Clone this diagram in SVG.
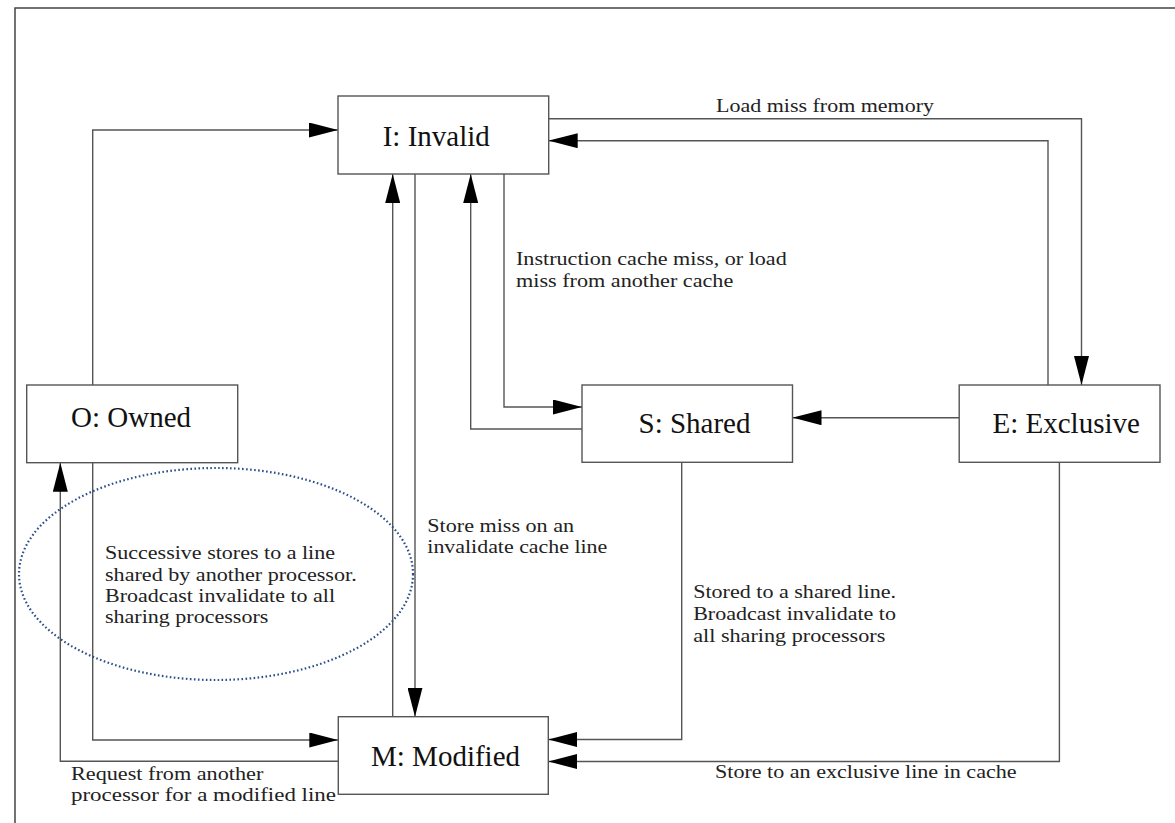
<svg xmlns="http://www.w3.org/2000/svg" width="1175" height="823" viewBox="0 0 1175 823">
<defs>
<style>
.box{fill:#fff;stroke:#555;stroke-width:1.4}
.ln{fill:none;stroke:#555;stroke-width:1.4}
.nt{font-family:"Liberation Serif","Times New Roman",serif;font-size:29px;fill:#111}
.lb{font-family:"Liberation Serif","Times New Roman",serif;font-size:19px;fill:#222}
.ell{fill:none;stroke:#2c4f8c;stroke-width:2.2;stroke-dasharray:1.6 2.4}
</style>
<marker id="ah" markerUnits="userSpaceOnUse" markerWidth="29" markerHeight="15" refX="29" refY="7.5" orient="auto" viewBox="0 0 29 15">
<path d="M0,0 L29,7.5 L0,15 z" fill="#000"/>
</marker>
</defs>
<rect width="1175" height="823" fill="#fff"/>
<path d="M15,823 V8 H1175" fill="none" stroke="#444" stroke-width="1.5"/>
<g id="connectors">
<path class="ln" d="M92.7,385 V130 H338" marker-end="url(#ah)"/>
<path class="ln" d="M548.7,118.7 H1081.5 V385" marker-end="url(#ah)"/>
<path class="ln" d="M1048,385 V140.7 H548.7" marker-end="url(#ah)"/>
<path class="ln" d="M504,174 V407 H582" marker-end="url(#ah)"/>
<path class="ln" d="M582,429 H470.7 V174" marker-end="url(#ah)"/>
<path class="ln" d="M415,174 V716.7" marker-end="url(#ah)"/>
<path class="ln" d="M392.7,716.7 V174" marker-end="url(#ah)"/>
<path class="ln" d="M959.2,417.7 H792.5" marker-end="url(#ah)"/>
<path class="ln" d="M681.7,462.3 V739.5 H548.3" marker-end="url(#ah)"/>
<path class="ln" d="M1059.4,462.3 V761.5 H548.3" marker-end="url(#ah)"/>
<path class="ln" d="M92.7,462.7 V740 H338.3" marker-end="url(#ah)"/>
<path class="ln" d="M338.3,761.3 H60.3 V462.7" marker-end="url(#ah)"/>
</g>
<g id="node-I">
<rect class="box" x="338" y="96" width="210.7" height="78"/>
<text class="nt" x="382.7" y="145.7">I: Invalid</text>
</g>
<g id="node-O">
<rect class="box" x="26.7" y="385" width="211" height="77.7"/>
<text class="nt" x="71" y="427.3">O: Owned</text>
</g>
<g id="node-S">
<rect class="box" x="582" y="385" width="210.5" height="77.3"/>
<text class="nt" x="638.5" y="433.3">S: Shared</text>
</g>
<g id="node-E">
<rect class="box" x="959.2" y="385" width="200.8" height="77.3"/>
<text class="nt" x="992.5" y="433.3">E: Exclusive</text>
</g>
<g id="node-M">
<rect class="box" x="338.3" y="716.7" width="210" height="77.6"/>
<text class="nt" x="371" y="766">M: Modified</text>
</g>
<g id="annotation">
<ellipse class="ell" cx="216" cy="574" rx="197" ry="106"/>
<text class="lb" x="105" y="559.3" textLength="230" lengthAdjust="spacingAndGlyphs">Successive stores to a line</text>
<text class="lb" x="105" y="580.7" textLength="251.7" lengthAdjust="spacingAndGlyphs">shared by another processor.</text>
<text class="lb" x="105" y="601.7" textLength="230" lengthAdjust="spacingAndGlyphs">Broadcast invalidate to all</text>
<text class="lb" x="105" y="623.3" textLength="163.3" lengthAdjust="spacingAndGlyphs">sharing processors</text>
</g>
<g id="labels">
<text class="lb" x="716" y="111.7" textLength="218" lengthAdjust="spacingAndGlyphs">Load miss from memory</text>
<text class="lb" x="516" y="265" textLength="270.7" lengthAdjust="spacingAndGlyphs">Instruction cache miss, or load</text>
<text class="lb" x="516" y="287.3" textLength="217.3" lengthAdjust="spacingAndGlyphs">miss from another cache</text>
<text class="lb" x="427.3" y="531.7" textLength="146.7" lengthAdjust="spacingAndGlyphs">Store miss on an</text>
<text class="lb" x="427.3" y="553.3" textLength="180" lengthAdjust="spacingAndGlyphs">invalidate cache line</text>
<text class="lb" x="693.2" y="598.3" textLength="202.8" lengthAdjust="spacingAndGlyphs">Stored to a shared line.</text>
<text class="lb" x="693.2" y="620" textLength="202.8" lengthAdjust="spacingAndGlyphs">Broadcast invalidate to</text>
<text class="lb" x="693.2" y="641.7" textLength="192.1" lengthAdjust="spacingAndGlyphs">all sharing processors</text>
<text class="lb" x="715" y="778.3" textLength="301.6" lengthAdjust="spacingAndGlyphs">Store to an exclusive line in cache</text>
<text class="lb" x="71" y="780" textLength="192.3" lengthAdjust="spacingAndGlyphs">Request from another</text>
<text class="lb" x="71" y="800.7" textLength="265" lengthAdjust="spacingAndGlyphs">processor for a modified line</text>
</g>
</svg>
